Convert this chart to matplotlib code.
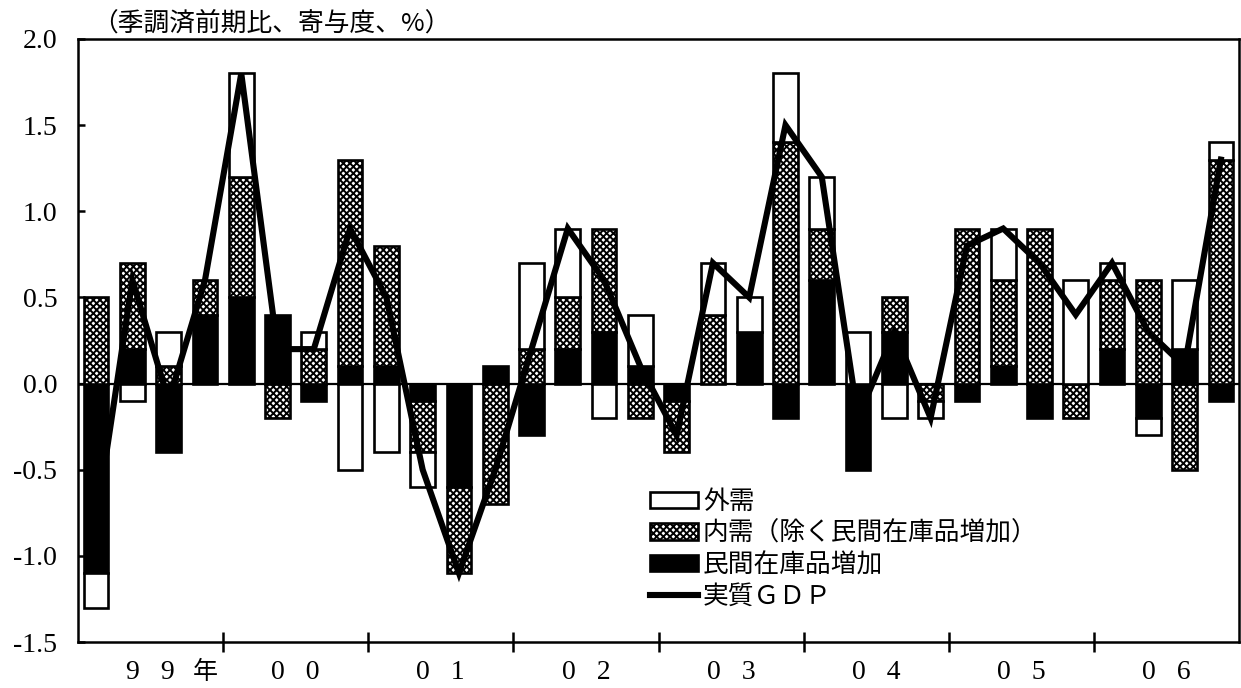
import numpy as np
import matplotlib.pyplot as plt

plt.rcParams['hatch.linewidth'] = 1.4

# quarters 1999Q1 .. 2006Q4
years = ['9 9', '0 0', '0 1', '0 2', '0 3', '0 4', '0 5', '0 6']
inventory = [-1.1, 0.2, -0.4, 0.4, 0.5, 0.4, -0.1, 0.1,
             0.1, -0.1, -0.6, 0.1, -0.3, 0.2, 0.3, 0.1,
             -0.1, 0.0, 0.3, -0.2, 0.6, -0.5, 0.3, 0.0,
             -0.1, 0.1, -0.2, 0.0, 0.2, -0.2, 0.2, -0.1]
domestic = [0.5, 0.5, 0.1, 0.2, 0.7, -0.2, 0.2, 1.2,
            0.7, -0.3, -0.5, -0.7, 0.2, 0.3, 0.6, -0.2,
            -0.3, 0.4, 0.0, 1.4, 0.3, 0.0, 0.2, -0.1,
            0.9, 0.5, 0.9, -0.2, 0.4, 0.6, -0.5, 1.3]
external = [-0.2, -0.1, 0.2, 0.0, 0.6, 0.0, 0.1, -0.5,
            -0.4, -0.2, 0.0, 0.0, 0.5, 0.4, -0.2, 0.3,
            0.0, 0.3, 0.2, 0.4, 0.3, 0.3, -0.2, -0.1,
            0.0, 0.3, 0.0, 0.6, 0.1, -0.1, 0.4, 0.1]
gdp = [-0.8, 0.6, -0.1, 0.6, 1.8, 0.2, 0.2, 0.9,
       0.5, -0.5, -1.1, -0.5, 0.2, 0.9, 0.6, 0.1,
       -0.3, 0.7, 0.5, 1.5, 1.2, -0.2, 0.3, -0.2,
       0.8, 0.9, 0.7, 0.4, 0.7, 0.3, 0.1, 1.3]
y_ticks = [-1.5, -1.0, -0.5, 0.0, 0.5, 1.0, 1.5, 2.0]

labels = ['外需', '内需（除く民間在庫品増加）', '民間在庫品増加', '実質ＧＤＰ']
title = '（季調済前期比、寄与度、%）'

serif = ['Liberation Serif', 'Noto Sans CJK JP']
cjk = ['Noto Sans CJK JP', 'DejaVu Sans']

fig, ax = plt.subplots(figsize=(12.41, 6.88), dpi=100)
fig.subplots_adjust(left=78/1241, right=1239/1241, bottom=1-642/688, top=1-39/688)

n = len(gdp)
x = np.arange(n)
w = 0.68
pos_base = np.zeros(n)
neg_base = np.zeros(n)
handles = {}
# stack order from zero: inventory, domestic, external
for key, vals, face, hatch in [('inv', inventory, 'black', None),
                               ('dom', domestic, 'white', 'xxxxx'),
                               ('ext', external, 'white', None)]:
    v = np.array(vals)
    base = np.where(v >= 0, pos_base, neg_base)
    m = v != 0
    handles[key] = ax.bar(x[m], v[m], w, bottom=base[m], color=face,
                          edgecolor='black', hatch=hatch, linewidth=1.9, zorder=2)
    pos_base += np.clip(v, 0, None)
    neg_base += np.clip(v, None, 0)

ax.axhline(0, color='black', lw=1.6, zorder=1.5)
line, = ax.plot(x, gdp, color='black', lw=4.4, zorder=3, solid_joinstyle='miter')

ax.set_xlim(-0.5, n - 0.5)
ax.set_ylim(-1.5, 2.0)
for s in ax.spines.values():
    s.set_linewidth(1.8)

ax.set_xticks(np.arange(3.5, n - 1, 4))
ax.set_xticklabels([])
ax.tick_params(axis='x', direction='inout', length=14, width=1.8)
trans = ax.get_xaxis_transform()
for i, yr in enumerate(years):
    ax.text(1.5 + 4 * i, -0.05, yr.replace(' ', '   '), transform=trans,
            ha='center', va='center', fontsize=20, family=serif)
ax.text(3.0, -0.05, '年', transform=trans, ha='center', va='center',
        fontsize=18, family=cjk)

ax.set_yticks(y_ticks)
ax.set_yticklabels([f'{v:.1f}' for v in y_ticks], fontsize=20, family=serif)
ax.tick_params(axis='y', direction='in', length=5, width=1.8, pad=15)

fig.text(92/1241, 1 - 24/688, title, ha='left', va='center',
         fontsize=18.5, family=cjk)

leg = ax.legend([handles['ext'], handles['dom'], handles['inv'], line], labels,
                loc='upper left', bbox_to_anchor=(0.4927, 0.254), frameon=False,
                prop={'family': cjk, 'size': 18.5}, handlelength=1.86,
                handleheight=0.6, handletextpad=0.2, labelspacing=0.22,
                borderpad=0, borderaxespad=0)

fig.savefig('out.png', dpi=100)
